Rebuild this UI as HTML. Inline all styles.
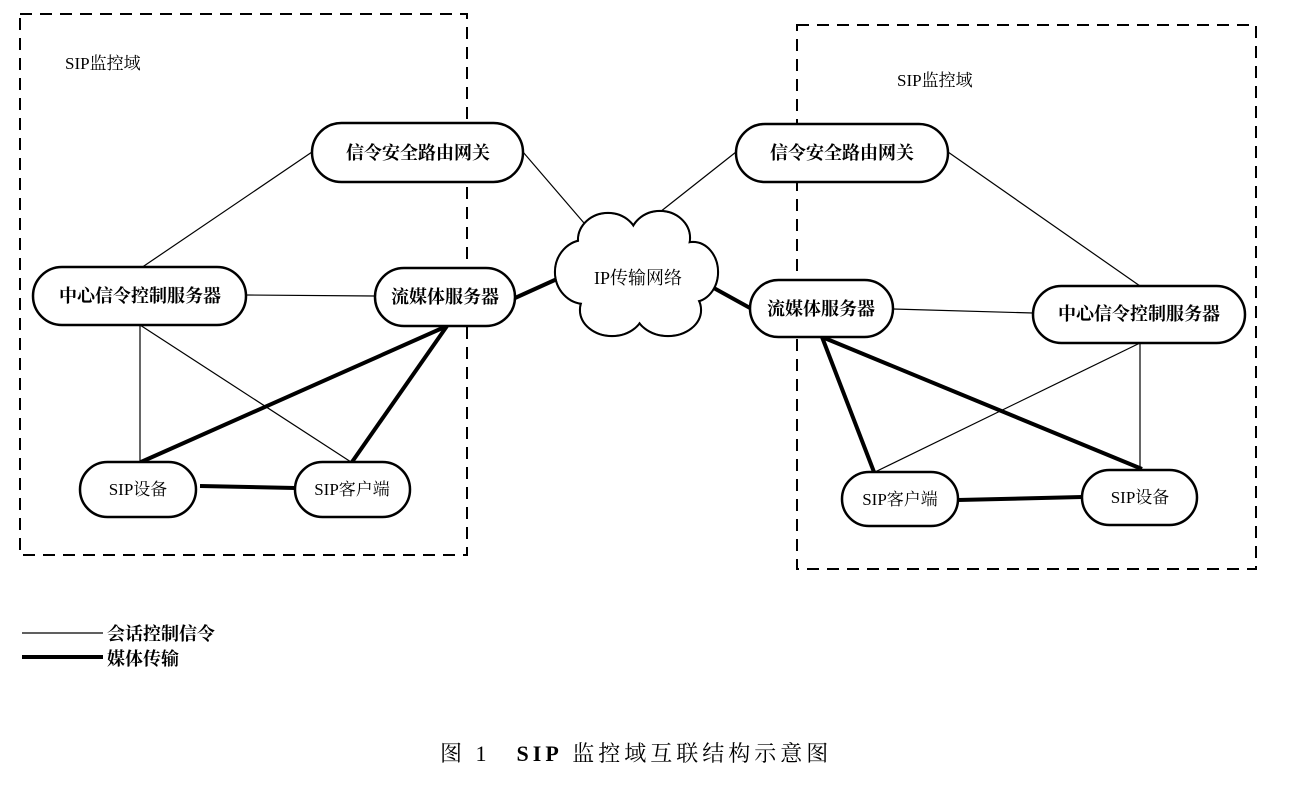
<!DOCTYPE html>
<html><head><meta charset="utf-8"><style>
html,body{margin:0;padding:0;background:#fff;}
svg text{font-family:"Liberation Serif","Noto Serif CJK SC",serif;fill:#000;}
</style></head><body>
<svg width="1304" height="782" viewBox="0 0 1304 782" xmlns="http://www.w3.org/2000/svg">
<g fill="none" stroke="#000" stroke-width="2" stroke-dasharray="12,8">
<rect x="20" y="14" width="447" height="541"/>
<rect x="797" y="25" width="459" height="544"/>
</g>
<text x="65" y="69" font-size="17">SIP监控域</text>
<text x="897" y="86" font-size="17">SIP监控域</text>
<g stroke="#000" stroke-width="1.2" fill="none">
<line x1="312" y1="152" x2="141" y2="268"/>
<line x1="523" y1="152" x2="584" y2="223"/>
<line x1="246" y1="295" x2="375" y2="296"/>
<line x1="140" y1="325" x2="140" y2="462"/>
<line x1="140" y1="325" x2="351" y2="462"/>
<line x1="736" y1="152" x2="660" y2="212"/>
<line x1="948" y1="152" x2="1140" y2="286"/>
<line x1="893" y1="309" x2="1033" y2="313"/>
<line x1="1140" y1="343" x2="875" y2="472"/>
<line x1="1140" y1="343" x2="1140" y2="470"/>
</g>
<g stroke="#000" stroke-width="4" fill="none">
<line x1="447" y1="326" x2="141" y2="462"/>
<line x1="447" y1="326" x2="352" y2="462"/>
<line x1="200" y1="486" x2="295" y2="488"/>
<line x1="515" y1="298" x2="557" y2="279"/>
<line x1="712" y1="287" x2="750" y2="308"/>
<line x1="822" y1="337" x2="874" y2="472"/>
<line x1="822" y1="337" x2="1142" y2="469"/>
<line x1="958" y1="500" x2="1082" y2="497"/>
</g>
<g stroke="#000" stroke-width="2.2" fill="#fff">
<ellipse cx="608" cy="240" rx="30" ry="27"/>
<ellipse cx="660" cy="238" rx="30" ry="27"/>
<ellipse cx="585" cy="272" rx="30" ry="32"/>
<ellipse cx="693" cy="272" rx="25" ry="30"/>
<ellipse cx="612" cy="310" rx="32" ry="26"/>
<ellipse cx="668" cy="310" rx="33" ry="26"/>
</g>
<g fill="#fff">
<ellipse cx="608" cy="240" rx="29" ry="26"/>
<ellipse cx="660" cy="238" rx="29" ry="26"/>
<ellipse cx="585" cy="272" rx="29" ry="31"/>
<ellipse cx="693" cy="272" rx="24" ry="29"/>
<ellipse cx="612" cy="310" rx="31" ry="25"/>
<ellipse cx="668" cy="310" rx="32" ry="25"/>
<ellipse cx="638" cy="272" rx="50" ry="40"/>
</g>
<text x="638" y="284" font-size="18" text-anchor="middle">IP传输网络</text>
<g stroke="#000" stroke-width="2.5" fill="#fff">
<rect x="312" y="123" width="211" height="59" rx="29.5"/>
<rect x="33" y="267" width="213" height="58" rx="29"/>
<rect x="375" y="268" width="140" height="58" rx="29"/>
<rect x="80" y="462" width="116" height="55" rx="27.5"/>
<rect x="295" y="462" width="115" height="55" rx="27.5"/>
<rect x="736" y="124" width="212" height="58" rx="29"/>
<rect x="750" y="280" width="143" height="57" rx="28.5"/>
<rect x="1033" y="286" width="212" height="57" rx="28.5"/>
<rect x="842" y="472" width="116" height="54" rx="27"/>
<rect x="1082" y="470" width="115" height="55" rx="27.5"/>
</g>
<g font-size="18" font-weight="bold" text-anchor="middle">
<text x="418" y="159">信令安全路由网关</text>
<text x="140" y="302">中心信令控制服务器</text>
<text x="445" y="303">流媒体服务器</text>
<text x="842" y="159">信令安全路由网关</text>
<text x="821" y="315">流媒体服务器</text>
<text x="1139" y="320">中心信令控制服务器</text>
</g>
<g font-size="17" text-anchor="middle">
<text x="138" y="495">SIP设备</text>
<text x="352" y="495">SIP客户端</text>
<text x="900" y="505">SIP客户端</text>
<text x="1140" y="503">SIP设备</text>
</g>
<line x1="22" y1="633" x2="103" y2="633" stroke="#000" stroke-width="1.2"/>
<line x1="22" y1="657" x2="103" y2="657" stroke="#000" stroke-width="4"/>
<text x="107" y="640" font-size="18" font-weight="bold">会话控制信令</text>
<text x="107" y="665" font-size="18" font-weight="bold">媒体传输</text>
<text x="440" y="761" font-size="22" letter-spacing="4">图 1　<tspan font-weight="bold">SIP</tspan> 监控域互联结构示意图</text>
</svg>
</body></html>
